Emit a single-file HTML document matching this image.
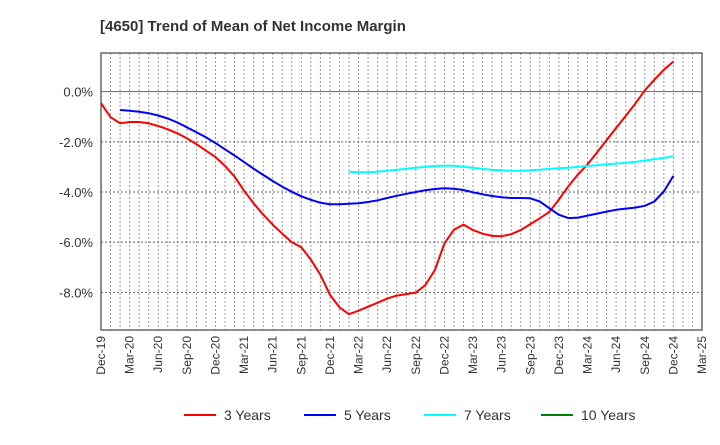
<!DOCTYPE html>
<html><head><meta charset="utf-8"><style>
body{margin:0;background:#fff;}
svg text{font-family:"Liberation Sans",Arial,sans-serif;}
</style></head><body>
<svg id="chart" width="720" height="440" xmlns="http://www.w3.org/2000/svg">
<text x="100" y="31" font-size="15" font-weight="bold" fill="#333">[4650]  Trend of Mean of Net Income Margin</text>
<g id="grid"></g><g id="series"></g><g id="axes"></g><g id="legend"></g>
</svg>
<script>
const xLabels=["Dec-19","Mar-20","Jun-20","Sep-20","Dec-20","Mar-21","Jun-21","Sep-21","Dec-21","Mar-22","Jun-22","Sep-22","Dec-22","Mar-23","Jun-23","Sep-23","Dec-23","Mar-24","Jun-24","Sep-24","Dec-24","Mar-25"];
const yTicks=[0,-2,-4,-6,-8];
const yTickLabels=["0.0%","-2.0%","-4.0%","-6.0%","-8.0%"];
const red3=[-0.46,-1.02,-1.26,-1.21,-1.21,-1.26,-1.37,-1.5,-1.66,-1.86,-2.09,-2.35,-2.61,-2.96,-3.39,-3.95,-4.45,-4.9,-5.3,-5.66,-6.0,-6.2,-6.7,-7.3,-8.1,-8.6,-8.87,-8.73,-8.57,-8.41,-8.25,-8.13,-8.07,-8.01,-7.71,-7.11,-6.05,-5.5,-5.3,-5.52,-5.66,-5.75,-5.76,-5.68,-5.52,-5.28,-5.05,-4.79,-4.3,-3.77,-3.3,-2.9,-2.42,-1.93,-1.45,-0.97,-0.48,0.05,0.47,0.87,1.2];
const blue5=[null,null,-0.73,-0.76,-0.8,-0.86,-0.95,-1.07,-1.23,-1.42,-1.62,-1.82,-2.05,-2.3,-2.55,-2.81,-3.07,-3.32,-3.56,-3.79,-3.99,-4.17,-4.31,-4.43,-4.49,-4.49,-4.47,-4.45,-4.4,-4.33,-4.24,-4.15,-4.07,-4.0,-3.93,-3.88,-3.85,-3.87,-3.92,-4.01,-4.09,-4.16,-4.21,-4.24,-4.24,-4.25,-4.38,-4.65,-4.91,-5.04,-5.02,-4.94,-4.86,-4.78,-4.71,-4.66,-4.62,-4.55,-4.38,-3.98,-3.36];
const cyan7=[-3.19,-3.21,-3.21,-3.19,-3.15,-3.11,-3.07,-3.03,-3.0,-2.96,-2.95,-2.95,-2.99,-3.04,-3.08,-3.12,-3.13,-3.15,-3.15,-3.13,-3.11,-3.08,-3.05,-3.03,-3.0,-2.96,-2.93,-2.89,-2.87,-2.84,-2.8,-2.75,-2.69,-2.64,-2.58];
const cyanStart=26;
const green10=[];
const seriesNames=["3 Years","5 Years","7 Years","10 Years"];
const seriesColors=["#ff0000","#0000ff","#00ffff","#008000"];

const L=101,R=702,T=53,B=330,months=63,yMax=1.54,yMin=-9.5;
const xs=m=>L+(R-L)*m/months;
const ys=v=>T+(B-T)*(yMax-v)/(yMax-yMin);
const NS="http://www.w3.org/2000/svg";
function mk(p,tag,at){const e=document.createElementNS(NS,tag);for(const k in at)e.setAttribute(k,at[k]);p.appendChild(e);return e;}
const grid=document.getElementById('grid'),axes=document.getElementById('axes'),ser=document.getElementById('series'),leg=document.getElementById('legend');
for(let m=1;m<months;m++){const x=xs(m);
const g=mk(grid,'line',{x1:x,x2:x,y1:T,y2:B,stroke:'#999','stroke-dasharray':'2,2','stroke-width':1});

}
yTicks.forEach((v,i)=>{const y=ys(v);
const g=mk(grid,'line',{x1:L,x2:R,y1:y,y2:y,stroke:'#666','stroke-dasharray':v===0?'':'2,2','stroke-width':1});


const t=mk(axes,'text',{x:L-8,y:y+5,'text-anchor':'end','font-size':13,fill:'#333'});t.textContent=yTickLabels[i];

});
const fr=mk(axes,'rect',{x:L,y:T,width:R-L,height:B-T,fill:'none',stroke:'#444','stroke-width':1.2});


xLabels.forEach((s,i)=>{const x=xs(i*3);
const t=mk(axes,'text',{x:0,y:0,transform:`translate(${x+4},${B+6}) rotate(-90)`,'text-anchor':'end','font-size':12,fill:'#333'});t.textContent=s;

});
function line(arr,start,color,name){let d='';arr.forEach((v,i)=>{if(v===null)return;d+=(d?'L':'M')+xs(start+i).toFixed(1)+','+ys(v).toFixed(1);});
if(!d)return;const p=mk(ser,'path',{d,fill:'none',stroke:color,'stroke-width':2,'stroke-linejoin':'round'});

}
line(red3,0,seriesColors[0],'line-3-years');
line(blue5,0,seriesColors[1],'line-5-years');
line(cyan7,cyanStart,seriesColors[2],'line-7-years');
line(green10,0,seriesColors[3],'line-10-years');
const lx=[184,304,424,541];
seriesNames.forEach((n,i)=>{
const g=mk(leg,'g',{});


mk(g,'line',{x1:lx[i],x2:lx[i]+32,y1:415,y2:415,stroke:seriesColors[i],'stroke-width':2});
const t=mk(g,'text',{x:lx[i]+40,y:420,'font-size':14,fill:'#333'});t.textContent=n;});
</script>
</body></html>
